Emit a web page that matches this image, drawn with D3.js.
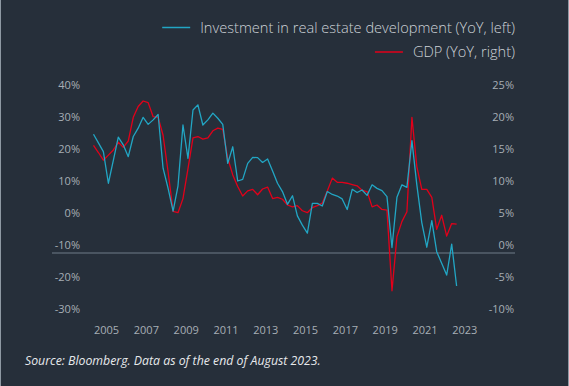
<!DOCTYPE html>
<html>
<head>
<meta charset="utf-8">
<script src="https://cdn.jsdelivr.net/npm/d3@7"></script>
<style>
  html, body { margin: 0; padding: 0; background: #262f3a; }
  svg { display: block; }
  text { font-family: "Open Sans", "Noto Sans", sans-serif; }
</style>
</head>
<body>
<svg id="chart" width="569" height="386"></svg>
<script>
// Quarterly data, 2005 Q1 .. 2023 Q2
const startYear = 2005;
const investment = [27.1, 24.4, 21.7, 11.8, 19.0, 26.2, 23.8, 20.1, 26.4, 29.0, 32.4, 30.2, 31.6, 33.3, 16.5, 10.2,
  3.1, 11.0, 30.0, 19.6, 34.7, 36.3, 30.0, 31.6, 33.7, 32.1, 30.2, 18.0, 23.2, 12.5, 13.0, 18.0,
  19.9, 19.8, 18.3, 19.4, 15.6, 11.8, 9.2, 5.2, 7.9, 1.6, -1.3, -3.8, 5.5, 5.5, 4.7, 9.2,
  8.3, 7.8, 6.9, 3.6, 9.9, 8.9, 9.7, 8.0, 11.3, 10.2, 9.5, 7.6, -8.3, 7.4, 11.3, 10.5,
  25.1, 11.3, -0.5, -8.2, 0.1, -9.6, -13.2, -16.9, -7.2, -20.3];
const gdp = [16.8, 15.7, 14.5, 15.3, 16.1, 17.3, 16.5, 17.5, 21.2, 22.9, 23.75, 23.5, 21.3, 21.2, 18.4, 12.7,
  6.5, 6.3, 8.5, 13.2, 18.0, 18.2, 17.8, 18.0, 19.1, 19.5, 19.3, 14.8, 12.2, 10.4, 8.9, 9.7,
  9.95, 9.1, 10.0, 10.3, 8.5, 8.7, 8.4, 7.5, 7.2, 7.4, 6.6, 6.3, 7.1, 7.4, 7.8, 9.7,
  11.7, 11.05, 11.05, 10.9, 10.7, 10.5, 9.8, 9.6, 7.2, 7.5, 6.8, 6.7, -5.9, 2.55, 4.9, 6.45,
  21.2, 13.5, 9.95, 9.95, 8.7, 3.7, 5.9, 2.65, 4.6, 4.5];
const leftTicks = [40, 30, 20, 10, 0, -10, -20, -30];
const rightTicks = [25, 20, 15, 10, 5, 0, -5, -10];
const yearTicks = [2005, 2007, 2009, 2011, 2013, 2015, 2017, 2019, 2021, 2023];
const seriesNames = ["Investment in real estate development (YoY, left)", "GDP (YoY, right)"];
const source = "Source: Bloomberg. Data as of the end of August 2023.";

const colors = { inv: "#22a6c4", gdp: "#e2001a", bg: "#262f3a", tick: "#a7aeb5", legend: "#cdd2d7", zero: "#4a5561" };

const dates = investment.map((_, i) => new Date(startYear + Math.floor(i / 4), (i % 4) * 3, 1));

const svg = d3.select("#chart");
svg.append("rect").attr("width", 569).attr("height", 386).attr("fill", colors.bg);
// frame edges
svg.append("line").attr("x1", 0.5).attr("x2", 0.5).attr("y1", 0).attr("y2", 386).attr("stroke", "#8e99a3").attr("stroke-width", 1);
svg.append("line").attr("x1", 568.5).attr("x2", 568.5).attr("y1", 0).attr("y2", 386).attr("stroke", "#8e99a3").attr("stroke-width", 1);

const x = d3.scaleTime().domain([new Date(2005, 0, 1), new Date(2023, 0, 1)]).range([93.5, 451.7]);
const yL = d3.scaleLinear().domain([-30, 40]).range([317, 93]);
const yR = d3.scaleLinear().domain([-10, 25]).range([317, 93]);

// reference line (left -10% / right 0%)
svg.append("line").attr("x1", 52).attr("x2", 515)
  .attr("y1", yR(0)).attr("y2", yR(0))
  .attr("stroke", colors.zero).attr("stroke-width", 2);

// left axis
const axL = d3.axisLeft(yL).tickValues(leftTicks).tickSize(0).tickFormat(d => d + "%");
const gL = svg.append("g").attr("transform", "translate(80,0)").call(axL);
gL.select(".domain").remove();
gL.selectAll("text").attr("x", 0).attr("dy", "-0.37em").attr("fill", colors.tick).style("font-size", "11px");

// right axis
const axR = d3.axisLeft(yR).tickValues(rightTicks).tickSize(0).tickFormat(d => d + "%");
const gR = svg.append("g").attr("transform", "translate(514,0)").call(axR);
gR.select(".domain").remove();
gR.selectAll("text").attr("x", 0).attr("dy", "-0.37em").attr("fill", colors.tick).style("font-size", "11px");

// x axis
const axX = d3.axisBottom(x).tickValues(yearTicks.map(y => new Date(y, 0, 1))).tickSize(0).tickFormat(d3.timeFormat("%Y"));
const gX = svg.append("g").attr("transform", "translate(0,326)").call(axX);
gX.select(".domain").remove();
gX.selectAll("text").attr("y", 0).attr("dy", "0.71em").attr("text-anchor", "start")
  .attr("fill", colors.tick).style("font-size", "11px");

// lines
const lineL = d3.line().x((d, i) => x(dates[i])).y(d => yL(d));
const lineR = d3.line().x((d, i) => x(dates[i])).y(d => yR(d));
svg.append("path").datum(gdp).attr("d", lineR).attr("fill", "none")
  .attr("stroke", colors.gdp).attr("stroke-width", 1.3).attr("stroke-linejoin", "round");
svg.append("path").datum(investment).attr("d", lineL).attr("fill", "none")
  .attr("stroke", colors.inv).attr("stroke-width", 1.3).attr("stroke-linejoin", "round");

// legend
const legend = [
  { name: seriesNames[0], color: colors.inv, y: 27.5 },
  { name: seriesNames[1], color: colors.gdp, y: 52 }
];
legend.forEach(l => {
  const t = svg.append("text").attr("x", 515).attr("y", l.y).attr("dy", "0.35em")
    .attr("text-anchor", "end").attr("fill", colors.legend)
    .style("font-size", "14.6px").style("font-weight", 300).text(l.name);
  const w = t.node().getComputedTextLength();
  const x0 = 515 - w - 10;
  svg.append("line").attr("x1", x0 - 28).attr("x2", x0).attr("y1", l.y).attr("y2", l.y)
    .attr("stroke", l.color).attr("stroke-width", 1.5);
});

// source
svg.append("text").attr("x", 25).attr("y", 361).attr("dy", "0.35em")
  .attr("fill", "#e6e9ec").style("font-size", "12.3px").style("font-style", "italic").text(source);
</script>
</body>
</html>
